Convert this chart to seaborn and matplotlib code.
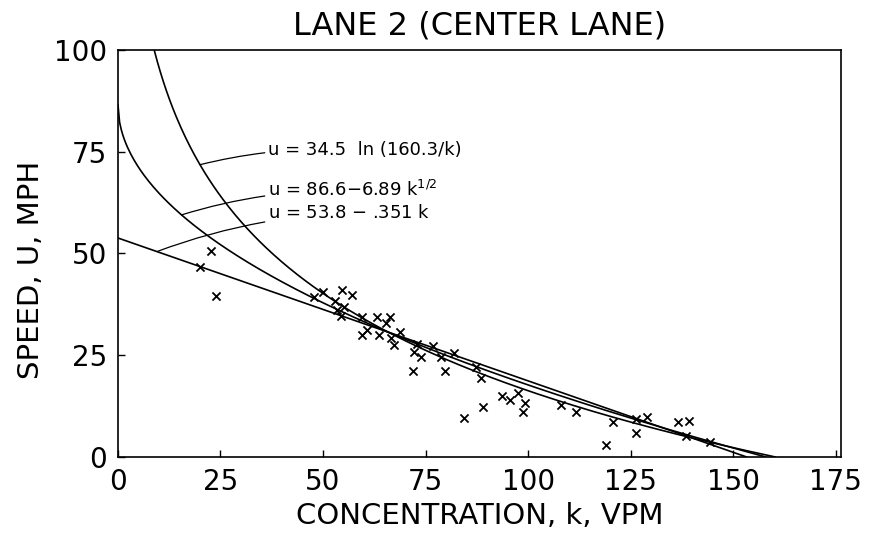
import numpy as np
import pandas as pd
import matplotlib
matplotlib.use("Agg")
import matplotlib.pyplot as plt
import seaborn as sns

# Observed points (concentration k, speed u)
k_obs = [20.1, 22.8, 24.0, 47.9, 50.1, 54.7, 57.1, 53.0, 55.0, 53.3,
         54.5, 59.6, 63.2, 66.3, 65.4, 59.6, 60.8, 63.7, 66.6, 68.8,
         67.3, 72.9, 72.2, 73.8, 76.8, 78.7, 82.0, 71.9, 79.7, 87.4,
         88.4, 89.1, 84.3, 93.7, 95.6, 97.6, 99.2, 98.8, 108.0, 111.6,
         120.6, 118.9, 126.2, 129.0, 126.2, 136.6, 139.2, 138.5, 144.3]
u_obs = [46.6, 50.7, 39.6, 39.3, 40.5, 41.0, 39.8, 38.3, 36.8, 36.0,
         34.6, 34.4, 34.4, 34.4, 32.9, 30.0, 31.2, 30.0, 29.3, 30.7,
         27.6, 27.8, 25.9, 24.6, 27.3, 24.6, 25.6, 21.2, 21.2, 22.2,
         19.3, 12.4, 9.5, 14.9, 14.1, 15.6, 13.2, 11.0, 12.7, 11.0,
         8.5, 3.0, 9.3, 9.8, 5.9, 8.5, 8.8, 5.1, 3.7]

# Fitted model coefficients
greenberg = [34.5, 160.3]      # u = a ln(kj/k)
sqrt_model = [86.6, 6.89]      # u = a - b k^1/2
greenshields = [53.8, 0.351]   # u = a - b k

x_ticks = [0, 25, 50, 75, 100, 125, 150, 175]
x_ticklabels = ["0", "25", "50", "75", "100", "125", "150", "175"]
y_ticks = [0, 25, 50, 75, 100]
y_ticklabels = ["0", "25", "50", "75", "100"]

labels = ["u = 34.5  ln (160.3/k)",
          r"u = 86.6$-$6.89 k$^{\mathregular{1/2}}$",
          r"u = 53.8 $-$ .351 k"]

sns.set_style("ticks")
plt.rcParams["font.family"] = ["DejaVu Sans"]
plt.rcParams["text.color"] = "black"
plt.rcParams["axes.labelcolor"] = "black"
plt.rcParams["xtick.color"] = "black"
plt.rcParams["ytick.color"] = "black"

fig = plt.figure(figsize=(8.77, 5.37), dpi=100)
ax = fig.add_axes([0.1345, 0.149, 0.8245, 0.758])

# curves
k1 = np.linspace(greenberg[1] * np.exp(-100 / greenberg[0]), greenberg[1], 400)
u1 = greenberg[0] * np.log(greenberg[1] / k1)
k2 = np.linspace(0, (sqrt_model[0] / sqrt_model[1]) ** 2, 400)
u2 = sqrt_model[0] - sqrt_model[1] * np.sqrt(k2)
k3 = np.linspace(0, greenshields[0] / greenshields[1], 400)
u3 = greenshields[0] - greenshields[1] * k3

for kk, uu in [(k1, u1), (k2, u2), (k3, u3)]:
    sns.lineplot(x=kk, y=uu, ax=ax, color="black", linewidth=1.2,
                 sort=False, estimator=None)

df = pd.DataFrame({"k": k_obs, "u": u_obs})
sns.scatterplot(data=df, x="k", y="u", ax=ax, marker="x", color="black",
                s=34, linewidth=1.3)

# annotations with leader lines
kg = 20.0
kq = 15.5
kl = 9.5
targets = [(kg, greenberg[0] * np.log(greenberg[1] / kg)),
           (kq, sqrt_model[0] - sqrt_model[1] * np.sqrt(kq)),
           (kl, greenshields[0] - greenshields[1] * kl)]
text_pos = [(36.6, 75.3), (36.6, 65.5), (36.6, 60.0)]
for lab, tgt, tp in zip(labels, targets, text_pos):
    ax.annotate(lab, xy=tgt, xytext=tp, fontsize=13, va="center", ha="left",
                color="black",
                arrowprops=dict(arrowstyle="-", color="black", lw=0.9,
                                shrinkA=0, shrinkB=0,
                                connectionstyle="arc3,rad=0.08"))

ax.set_xlim(0, 176.3)
ax.set_ylim(0, 100)
ax.set_xticks(x_ticks)
ax.set_xticklabels(x_ticklabels, fontsize=20)
ax.set_yticks(y_ticks)
ax.set_yticklabels(y_ticklabels, fontsize=20)
ax.tick_params(direction="in", length=5, width=1, pad=8)
for sp in ax.spines.values():
    sp.set_visible(True)
    sp.set_linewidth(1.2)
    sp.set_color("black")

ax.set_xlabel("CONCENTRATION, k, VPM", fontsize=21, labelpad=4)
ax.set_ylabel("SPEED, U, MPH", fontsize=21, labelpad=6)
ax.yaxis.label.set_y(0.46)
ax.set_title("LANE 2 (CENTER LANE)", fontsize=23, pad=11)

fig.savefig("out.png", dpi=100)
